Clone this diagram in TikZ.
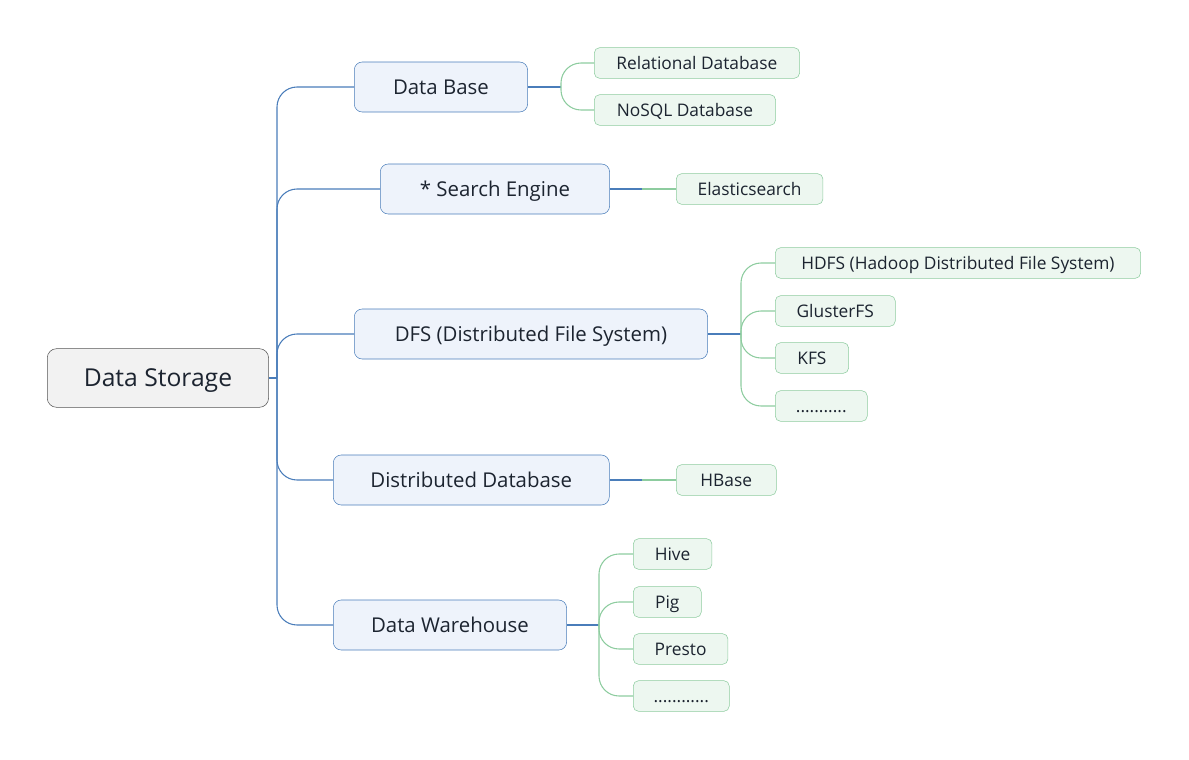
\documentclass[tikz,border=0pt]{standalone}
\usepackage{fontspec}
\setmainfont{Open Sans}
\usepackage{tikz}
\usetikzlibrary{positioning}
\definecolor{rootfill}{HTML}{F2F2F2}
\definecolor{rootdraw}{HTML}{555555}
\definecolor{branchfill}{HTML}{EEF3FB}
\definecolor{branchdraw}{HTML}{4A7DBA}
\definecolor{leaffill}{HTML}{EDF7F0}
\definecolor{leafdraw}{HTML}{8DCC9F}
\definecolor{inktext}{HTML}{1C2430}
\tikzstyle{root} = [rectangle, draw=rootdraw, fill=rootfill, rounded corners=7pt,
    anchor=west, minimum height=44pt, text height=13.2pt, text depth=0pt,
    font=\fontsize{18.5}{20}\selectfont, text=inktext]
\tikzstyle{branch} = [rectangle, draw=branchdraw, fill=branchfill, rounded corners=6pt,
    anchor=west, minimum height=37.5pt, text height=10.9pt, text depth=0pt,
    font=\fontsize{15.3}{18}\selectfont, text=inktext]
\tikzstyle{leaf} = [rectangle, draw=leafdraw, fill=leaffill, rounded corners=4pt,
    anchor=west, minimum height=23pt, text height=9.3pt, text depth=0pt,
    font=\fontsize{13}{15}\selectfont, text=inktext]
\tikzstyle{bline} = [draw=branchdraw, line width=0.8pt, rounded corners=15pt]
\tikzstyle{gline} = [draw=leafdraw, line width=0.8pt, rounded corners=15pt]

\begin{document}
\begin{tikzpicture}[x=0.75pt, y=-0.75pt]
            \useasboundingbox (0,0) rectangle (1189,760);
            % Place nodes
            \node [root, minimum width=166pt] (store) at (47,378) {Data Storage};

            \node [branch, minimum width=130pt] (dbase) at (354,87) {Data Base};
            \node [branch, minimum width=172pt] (search) at (380,189) {* Search Engine};
            \node [branch, minimum width=265pt] (dfs) at (354,334) {DFS (Distributed File System)};
            \node [branch, minimum width=207pt] (ddb) at (333,480) {Distributed Database};
            \node [branch, minimum width=175pt] (dwh) at (333,625) {Data Warehouse};

            \node [leaf, minimum width=154pt] (rel) at (594,63) {Relational Database};
            \node [leaf, minimum width=136pt] (nosql) at (594,110) {NoSQL Database};
            \node [leaf, minimum width=110pt] (elastic) at (676,189) {Elasticsearch};

            \node [leaf, minimum width=274pt] (hdfs) at (775,263) {HDFS (Hadoop Distributed File System)};
            \node [leaf, minimum width=90pt] (gluster) at (775,311) {GlusterFS};
            \node [leaf, minimum width=55pt] (kfs) at (775,358) {KFS};
            \node [leaf, minimum width=69pt] (dfsmore) at (775,406) {...........};

            \node [leaf, minimum width=75pt] (hbase) at (676,480) {HBase};

            \node [leaf, minimum width=59pt] (hive) at (633,554) {Hive};
            \node [leaf, minimum width=51pt] (pig) at (633,602) {Pig};
            \node [leaf, minimum width=71pt] (presto) at (633,649) {Presto};
            \node [leaf, minimum width=72pt] (dwhmore) at (633,696) {............};

            % Junctions
            \coordinate (hub) at (277,378);
            \coordinate (dbj) at (561,87);
            \coordinate (sej) at (642,189);
            \coordinate (dfsj) at (741,334);
            \coordinate (ddbj) at (642,480);
            \coordinate (dwhj) at (599,625);

            % Draw edges
            \path [bline] (store.east) -- (hub);
            \path [bline] (hub) |- (dbase.west);
            \path [bline] (hub) |- (search.west);
            \path [bline] (hub) |- (dfs.west);
            \path [bline] (hub) |- (ddb.west);
            \path [bline] (hub) |- (dwh.west);

            \path [bline] (dbase.east) -- (dbj);
            \path [gline] (dbj) |- (rel.west);
            \path [gline] (dbj) |- (nosql.west);

            \path [bline] (search.east) -- (sej);
            \path [gline] (sej) -- (elastic.west);

            \path [bline] (dfs.east) -- (dfsj);
            \path [gline] (dfsj) |- (hdfs.west);
            \path [gline] (dfsj) |- (gluster.west);
            \path [gline] (dfsj) |- (kfs.west);
            \path [gline] (dfsj) |- (dfsmore.west);

            \path [bline] (ddb.east) -- (ddbj);
            \path [gline] (ddbj) -- (hbase.west);

            \path [bline] (dwh.east) -- (dwhj);
            \path [gline] (dwhj) |- (hive.west);
            \path [gline] (dwhj) |- (pig.west);
            \path [gline] (dwhj) |- (presto.west);
            \path [gline] (dwhj) |- (dwhmore.west);

        \end{tikzpicture}
\end{document}
